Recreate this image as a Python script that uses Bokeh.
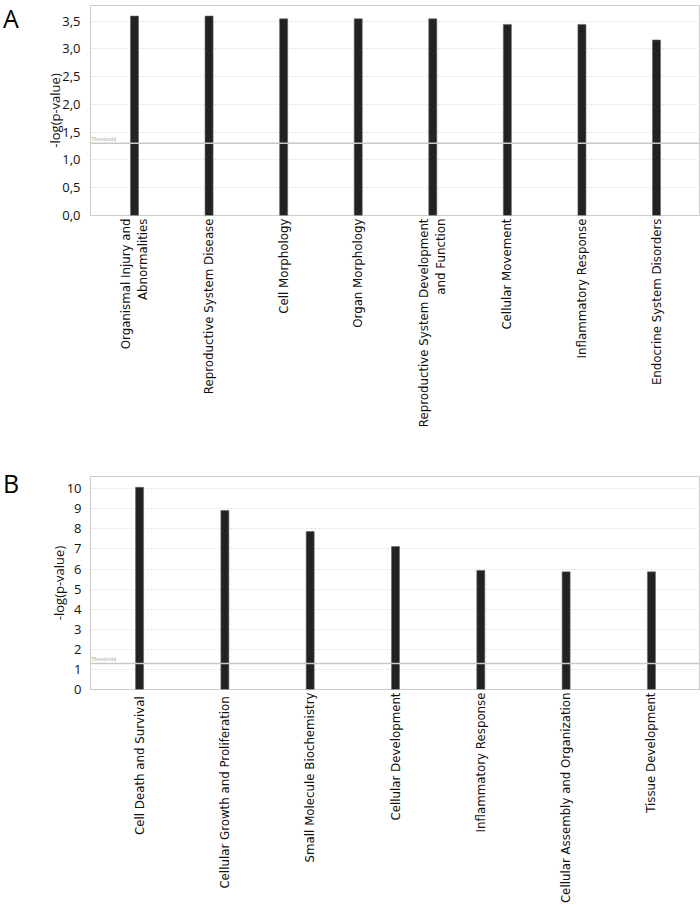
import math
from bokeh.plotting import figure
from bokeh.layouts import column, row
from bokeh.models import (Range1d, FixedTicker, Span, Label,
                          CustomJSTickFormatter, ColumnDataSource, Div)
from bokeh.embed import file_html
from bokeh.resources import INLINE

# ---- data ----
cats_a = ["Organismal Injury and\nAbnormalities", "Reproductive System Disease",
          "Cell Morphology", "Organ Morphology",
          "Reproductive System Development\nand Function", "Cellular Movement",
          "Inflammatory Response", "Endocrine System Disorders"]
vals_a = [3.59, 3.59, 3.54, 3.54, 3.54, 3.44, 3.44, 3.16]
ticks_a = [0, 0.5, 1.0, 1.5, 2.0, 2.5, 3.0, 3.5]

cats_b = ["Cell Death  and Survival", "Cellular Growth  and Proliferation",
          "Small Molecule Biochemistry", "Cellular Development",
          "Inflammatory Response", "Cellular Assembly and Organization",
          "Tissue Development"]
vals_b = [10.07, 8.92, 7.87, 7.12, 5.93, 5.86, 5.86]
ticks_b = list(range(0, 11))

threshold = 1.3

LABEL_FONT = "DejaVu Sans"
NUM_FONT = "Open Sans"
DIV_W = 30


def make_panel(cats, vals, ticks, y_end, pad, bar_w, frame_h,
               border_top, border_bottom, standoff, label_standoff, comma):
    n = len(cats)
    xs = list(range(n))
    p = figure(x_range=Range1d(-pad, n - 1 + pad),
               y_range=Range1d(0, y_end),
               frame_width=610, frame_height=frame_h,
               min_border_left=87 - DIV_W, min_border_right=0,
               min_border_top=border_top, min_border_bottom=border_bottom,
               output_backend="svg", toolbar_location=None)
    src = ColumnDataSource(dict(x=xs, val=vals))
    p.vbar(x="x", top="val", width=bar_w, source=src,
           fill_color="#222222", line_color="#666666", line_width=0.6)

    p.outline_line_color = "#cccccc"
    p.outline_line_width = 1
    p.xgrid.grid_line_color = None
    p.ygrid.grid_line_color = "#dedede"
    p.ygrid.grid_line_dash = "2 2"
    p.ygrid.grid_line_width = 1

    p.yaxis.ticker = FixedTicker(ticks=ticks)
    if comma:
        p.yaxis.formatter = CustomJSTickFormatter(
            code="return tick.toFixed(1).replace('.', ',');")
    p.yaxis.axis_label = "-log(p-value)"
    p.yaxis.axis_label_text_font = NUM_FONT
    p.yaxis.axis_label_text_font_style = "normal"
    p.yaxis.axis_label_text_font_size = "13px"
    p.yaxis.axis_label_text_color = "#111111"
    p.yaxis.axis_label_standoff = label_standoff
    p.yaxis.major_label_text_font = NUM_FONT
    p.yaxis.major_label_text_font_size = "13px"
    p.yaxis.major_label_text_color = "#111111"
    p.yaxis.major_label_standoff = standoff
    p.yaxis.axis_line_color = None
    p.yaxis.major_tick_line_color = None
    p.yaxis.minor_tick_line_color = None

    p.xaxis.ticker = FixedTicker(ticks=xs)
    p.xaxis.major_label_overrides = {i: c for i, c in enumerate(cats)}
    p.xaxis.major_label_orientation = math.pi / 2
    p.xaxis.major_label_text_font = LABEL_FONT
    p.xaxis.major_label_text_font_size = "11.8px"
    p.xaxis.major_label_text_color = "#111111"
    p.xaxis.major_label_standoff = -3
    p.xaxis.axis_line_color = None
    p.xaxis.major_tick_line_color = None
    p.xaxis.minor_tick_line_color = None

    p.add_layout(Span(location=threshold, dimension="width",
                      line_color="#c8c8c8", line_width=1.5))
    p.add_layout(Label(x=0, y=threshold, x_units="screen", text="Threshold",
                       x_offset=1, y_offset=1,
                       text_font=LABEL_FONT, text_font_size="5px",
                       text_color="#999999", text_baseline="bottom"))
    return p


def letter_div(letter, top):
    return Div(text=letter, width=DIV_W, height=40, margin=(top, 0, 0, 3),
               styles={"font-family": "Open Sans", "font-size": "25px",
                       "line-height": "25px", "color": "#000000"})


pa = make_panel(cats_a, vals_a, ticks_a, 3.78, 0.59, 0.108, 210,
                5, 251, 4, -5, True)
pb = make_panel(cats_b, vals_b, ticks_b, 10.61, 0.575, 0.094, 213,
                10, 217, 3, -4, False)

layout = column(row(letter_div("A", 6), pa, spacing=0),
                row(letter_div("B", 5), pb, spacing=0), spacing=0)
open("out.html", "w").write(file_html(layout, INLINE))
